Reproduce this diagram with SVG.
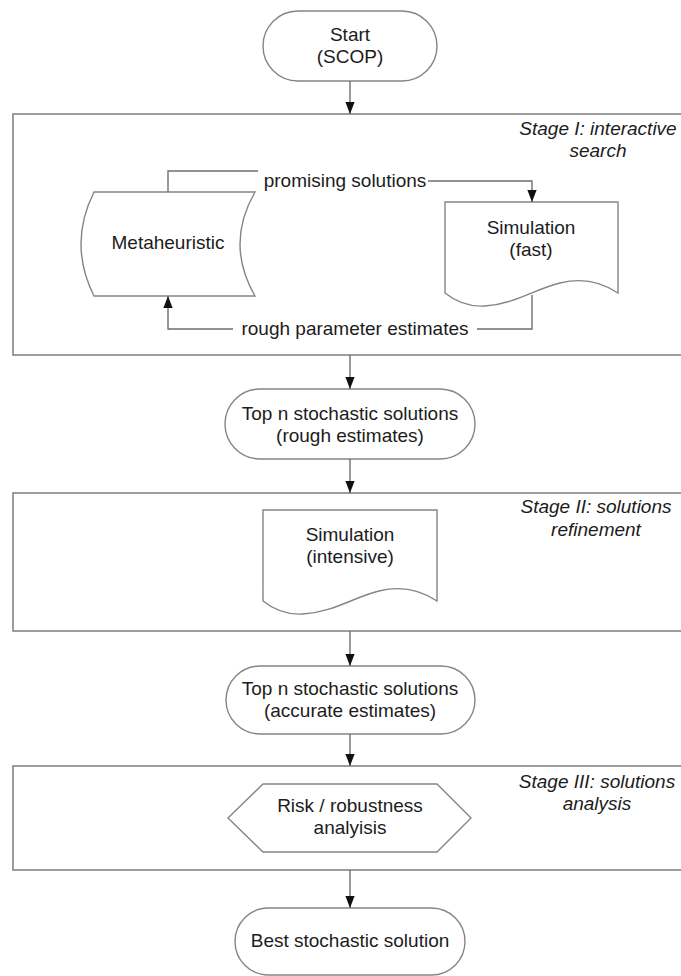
<svg xmlns="http://www.w3.org/2000/svg" width="681" height="976" viewBox="0 0 681 976">
<defs>
<marker id="ah" markerUnits="userSpaceOnUse" markerWidth="12" markerHeight="14" refX="13" refY="5" orient="auto" viewBox="0 0 13 10">
<path d="M0,0 L13,5 L0,10 Z" fill="#111"/>
</marker>
</defs>
<style>
.shape{fill:#fff;stroke:#858585;stroke-width:1.4}
.stage{fill:none;stroke:#858585;stroke-width:1.6}
.conn{fill:none;stroke:#6e6e6e;stroke-width:1.4}
.t{font-family:"Liberation Sans",Arial,sans-serif;font-size:19px;fill:#1c1c1c;text-anchor:middle}
.it{font-style:italic}
</style>
<rect width="681" height="976" fill="#fff"/>

<g id="stage1">
<rect class="stage" x="13" y="114" width="675" height="241"/>
<text class="t it" x="598" y="135">Stage I: interactive</text>
<text class="t it" x="598" y="157">search</text>
</g>
<g id="stage2">
<rect class="stage" x="13" y="493" width="675" height="138"/>
<text class="t it" x="596" y="513">Stage II: solutions</text>
<text class="t it" x="596" y="536">refinement</text>
</g>
<g id="stage3">
<rect class="stage" x="13" y="766" width="675" height="104"/>
<text class="t it" x="597" y="788">Stage III: solutions</text>
<text class="t it" x="597" y="810">analysis</text>
</g>

<g id="start">
<rect class="shape" x="263" y="11" width="174" height="70" rx="35"/>
<text class="t" x="350" y="41">Start</text>
<text class="t" x="350" y="63">(SCOP)</text>
</g>

<g id="metaheuristic">
<path class="shape" d="M94,192 L255,192 Q225,244 255,296 L94,296 Q68,244 94,192 Z"/>
<text class="t" x="168" y="249">Metaheuristic</text>
</g>

<g id="sim-fast">
<path class="shape" d="M445,202 L618,202 L618,293 C600,281 580,278 560,283 C535,289 515,304 485,306 C468,307 455,301 445,293 Z"/>
<text class="t" x="531" y="234">Simulation</text>
<text class="t" x="531" y="256">(fast)</text>
</g>

<g id="top-rough">
<rect class="shape" x="225" y="389" width="250" height="70" rx="35"/>
<text class="t" x="350" y="420">Top n stochastic solutions</text>
<text class="t" x="350" y="442">(rough estimates)</text>
</g>

<g id="sim-intensive">
<path class="shape" d="M263,510 L437,510 L437,601 C419,589 399,586 379,591 C354,597 334,612 303,614 C286,615 273,609 263,601 Z"/>
<text class="t" x="350" y="541">Simulation</text>
<text class="t" x="350" y="563">(intensive)</text>
</g>

<g id="top-accurate">
<rect class="shape" x="226" y="666" width="249" height="68" rx="34"/>
<text class="t" x="350" y="695">Top n stochastic solutions</text>
<text class="t" x="350" y="717">(accurate estimates)</text>
</g>

<g id="risk">
<path class="shape" d="M228,818 L263,784 L437,784 L471,818 L437,852 L263,852 Z"/>
<text class="t" x="350" y="812">Risk / robustness</text>
<text class="t" x="350" y="834">analyisis</text>
</g>

<g id="best">
<rect class="shape" x="235" y="908" width="230" height="67" rx="33.5"/>
<text class="t" x="350" y="947">Best stochastic solution</text>
</g>

<g id="connectors">
<line class="conn" x1="350" y1="81" x2="350" y2="114" marker-end="url(#ah)"/>
<line class="conn" x1="350" y1="355" x2="350" y2="389" marker-end="url(#ah)"/>
<line class="conn" x1="350" y1="459" x2="350" y2="493" marker-end="url(#ah)"/>
<line class="conn" x1="350" y1="631" x2="350" y2="666" marker-end="url(#ah)"/>
<line class="conn" x1="350" y1="734" x2="350" y2="766" marker-end="url(#ah)"/>
<line class="conn" x1="350" y1="870" x2="350" y2="908" marker-end="url(#ah)"/>
<polyline class="conn" points="168,192 168,171 258,171"/>
<polyline class="conn" points="428,181 532,181 532,202" marker-end="url(#ah)"/>
<text class="t" x="345" y="187">promising solutions</text>
<polyline class="conn" points="532,295 532,329 477,329"/>
<polyline class="conn" points="233,329 168,329 168,296" marker-end="url(#ah)"/>
<text class="t" x="355" y="335">rough parameter estimates</text>
</g>
</svg>
